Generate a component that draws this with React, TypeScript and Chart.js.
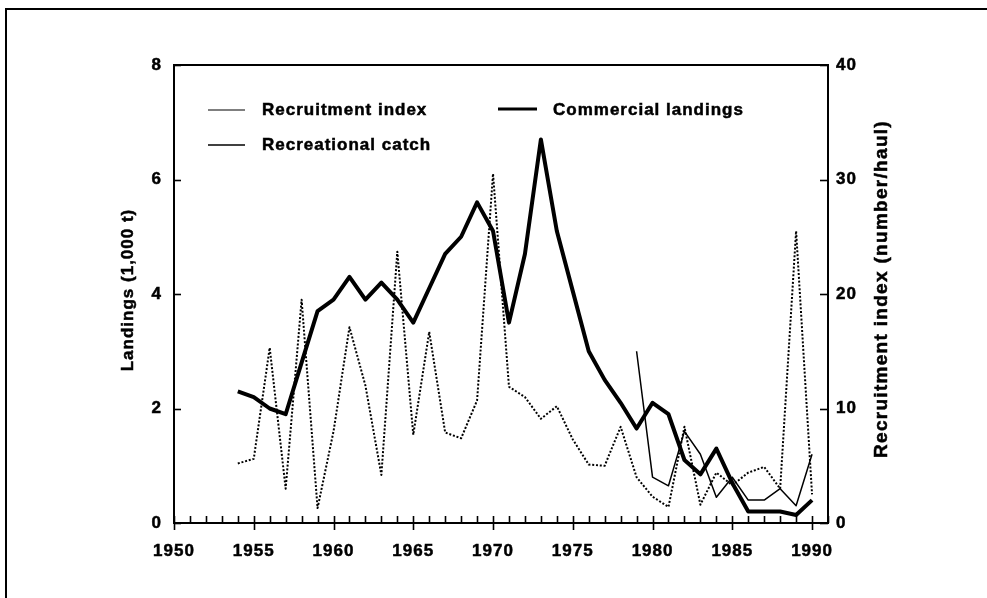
import React, { useEffect, useRef } from "react";
import { Chart, registerables } from "chart.js";

Chart.register(...registerables);

const years = [
  1954, 1955, 1956, 1957, 1958, 1959, 1960, 1961, 1962, 1963, 1964, 1965, 1966,
  1967, 1968, 1969, 1970, 1971, 1972, 1973, 1974, 1975, 1976, 1977, 1978, 1979,
  1980, 1981, 1982, 1983, 1984, 1985, 1986, 1987, 1988, 1989, 1990,
];
const commercialLandings = [
  2.3, 2.2, 2.0, 1.9, 2.8, 3.7, 3.9, 4.3, 3.9, 4.2, 3.9, 3.5, 4.1, 4.7, 5.0, 5.6,
  5.1, 3.5, 4.7, 6.7, 5.1, 4.05, 3.0, 2.5, 2.1, 1.65, 2.1, 1.9, 1.1, 0.85, 1.3,
  0.7, 0.2, 0.2, 0.2, 0.14, 0.4,
];
const recruitmentIndex = [
  5.2, 5.6, 15.3, 3.0, 19.5, 1.3, 8.0, 17.1, 12.0, 4.2, 23.7, 7.7, 16.7, 7.9, 7.4,
  10.7, 30.5, 11.9, 11.0, 9.1, 10.2, 7.3, 5.1, 5.0, 8.4, 4.0, 2.3, 1.4, 8.4, 1.6,
  4.4, 3.3, 4.4, 4.9, 3.0, 25.5, 2.5,
];
const recreationalYears = [
  1979, 1980, 1981, 1982, 1983, 1984, 1985, 1986, 1987, 1988, 1989, 1990,
];
const recreationalCatch = [3.0, 0.8, 0.65, 1.6, 1.2, 0.45, 0.8, 0.4, 0.4, 0.6, 0.3, 1.2];

const xTickLabels = [1950, 1955, 1960, 1965, 1970, 1975, 1980, 1985, 1990];
const leftTickValues = [0, 2, 4, 6, 8];
const rightTickValues = [0, 10, 20, 30, 40];

const leftTitle = "Landings (1,000 t)";
const rightTitle = "Recruitment index (number/haul)";
const legendRecruitment = "Recruitment index";
const legendRecreational = "Recreational catch";
const legendCommercial = "Commercial landings";

const FONT_FAMILY = "'Liberation Sans', Arial, Helvetica, sans-serif";
const INK = "#000";

function boldText(ctx: any, text: string, x: number, y: number) {
  ctx.fillText(text, x, y);
  ctx.lineWidth = 0.5;
  ctx.strokeText(text, x, y);
}

const decorPlugin = {
  id: "decor",
  beforeDraw(chart: any) {
    chart.ctx.letterSpacing = "1px";
  },
  afterDraw(chart: any) {
    const ctx = chart.ctx;
    const { left, right, top, bottom } = chart.chartArea;
    const xs = chart.scales.x;
    const yl = chart.scales.yL;
    const yr = chart.scales.yR;
    ctx.save();
    ctx.strokeStyle = INK;
    ctx.fillStyle = INK;

    // plot box
    ctx.lineWidth = 2;
    ctx.strokeRect(left, top, right - left, bottom - top);

    // x ticks: minor each year (inside), major every 5 yrs (crossing)
    ctx.lineWidth = 1.6;
    for (let v = Math.ceil(xs.min); v <= xs.max; v++) {
      const px = Math.round(xs.getPixelForValue(v)) + 0.5;
      const major = xTickLabels.includes(v);
      ctx.beginPath();
      ctx.moveTo(px, bottom - 7);
      ctx.lineTo(px, major ? bottom + 7 : bottom);
      ctx.stroke();
    }
    // left y ticks
    for (const v of leftTickValues) {
      const py = Math.round(yl.getPixelForValue(v)) + 0.5;
      ctx.beginPath();
      ctx.moveTo(left, py);
      ctx.lineTo(left + 7, py);
      ctx.stroke();
    }
    // right y ticks
    for (const v of rightTickValues) {
      const py = Math.round(yr.getPixelForValue(v)) + 0.5;
      ctx.beginPath();
      ctx.moveTo(right, py);
      ctx.lineTo(right - 8, py);
      ctx.stroke();
    }

    // axis titles
    ctx.textAlign = "center";
    ctx.textBaseline = "middle";
    const midY = (top + bottom) / 2;
    ctx.save();
    ctx.letterSpacing = "1px";
    ctx.font = `bold 17px ${FONT_FAMILY}`;
    ctx.translate(left - 46, midY - 4);
    ctx.rotate(-Math.PI / 2);
    boldText(ctx, leftTitle, 0, 0);
    ctx.restore();
    ctx.save();
    ctx.letterSpacing = "1.3px";
    ctx.font = `bold 19px ${FONT_FAMILY}`;
    ctx.translate(right + 54, midY - 5);
    ctx.rotate(-Math.PI / 2);
    boldText(ctx, rightTitle, 0, 0);
    ctx.restore();

    // legend
    ctx.letterSpacing = "1px";
    ctx.textAlign = "left";
    ctx.font = `bold 17px ${FONT_FAMILY}`;
    const row1 = top + 45;
    const row2 = top + 80;
    // recruitment sample
    ctx.lineWidth = 1.2;
    ctx.beginPath();
    ctx.moveTo(left + 34, row1);
    ctx.lineTo(left + 71, row1);
    ctx.stroke();
    boldText(ctx, legendRecruitment, left + 88, row1);
    // recreational sample
    ctx.lineWidth = 1.4;
    ctx.beginPath();
    ctx.moveTo(left + 34, row2);
    ctx.lineTo(left + 71, row2);
    ctx.stroke();
    boldText(ctx, legendRecreational, left + 88, row2);
    // commercial sample
    ctx.lineWidth = 3;
    ctx.beginPath();
    ctx.moveTo(left + 324, row1 - 1);
    ctx.lineTo(left + 363, row1 - 1);
    ctx.stroke();
    boldText(ctx, legendCommercial, left + 379, row1);

    ctx.restore();
  },
};

export default function App() {
  const canvasRef = useRef<HTMLCanvasElement | null>(null);

  useEffect(() => {
    const canvas = canvasRef.current;
    if (!canvas) return;
    const tickFont = { family: FONT_FAMILY, size: 17, weight: "bold" as const };
    const tickBase = {
      font: tickFont,
      color: INK,
      textStrokeColor: INK,
      textStrokeWidth: 0.5,
    };

    const chart = new Chart(canvas, {
      type: "line",
      data: {
        datasets: [
          {
            label: legendRecruitment,
            data: years.map((y, i) => ({ x: y, y: recruitmentIndex[i] })),
            yAxisID: "yR",
            borderColor: INK,
            borderWidth: 2,
            borderDash: [2, 1.8],
            borderJoinStyle: "round",
            pointRadius: 0,
            tension: 0,
            fill: false,
          },
          {
            label: legendRecreational,
            data: recreationalYears.map((y, i) => ({ x: y, y: recreationalCatch[i] })),
            yAxisID: "yL",
            borderColor: INK,
            borderWidth: 1.5,
            borderJoinStyle: "round",
            pointRadius: 0,
            tension: 0,
            fill: false,
          },
          {
            label: legendCommercial,
            data: years.map((y, i) => ({ x: y, y: commercialLandings[i] })),
            yAxisID: "yL",
            borderColor: INK,
            borderWidth: 4,
            borderJoinStyle: "round",
            pointRadius: 0,
            tension: 0,
            fill: false,
          },
        ],
      },
      options: {
        animation: false,
        responsive: false,
        devicePixelRatio: 1,
        layout: { padding: { top: 65, left: 0, right: 0, bottom: 0 }, autoPadding: false },
        plugins: { legend: { display: false }, tooltip: { enabled: false } },
        scales: {
          x: {
            type: "linear",
            position: "bottom",
            min: 1950,
            max: 1991,
            grid: { display: false, drawTicks: false },
            border: { display: false },
            ticks: {
              ...tickBase,
              padding: 18,
              maxRotation: 0,
              autoSkip: false,
              callback: (v: any) => String(v),
            },
            afterBuildTicks: (s: any) => {
              s.ticks = xTickLabels.map((v) => ({ value: v }));
            },
            afterFit: (s: any) => {
              s.height = 75;
            },
          },
          yL: {
            type: "linear",
            position: "left",
            min: 0,
            max: 8,
            grid: { display: false, drawTicks: false },
            border: { display: false },
            ticks: { ...tickBase, padding: 12, stepSize: 2 },
            afterBuildTicks: (s: any) => {
              s.ticks = leftTickValues.map((v) => ({ value: v }));
            },
            afterFit: (s: any) => {
              s.width = 174;
            },
          },
          yR: {
            type: "linear",
            position: "right",
            min: 0,
            max: 40,
            grid: { display: false, drawTicks: false },
            border: { display: false },
            ticks: { ...tickBase, padding: 8, stepSize: 10 },
            afterBuildTicks: (s: any) => {
              s.ticks = rightTickValues.map((v) => ({ value: v }));
            },
            afterFit: (s: any) => {
              s.width = 159;
            },
          },
        },
      },
      plugins: [decorPlugin],
    });
    return () => chart.destroy();
  }, []);

  return (
    <div
      style={{
        position: "fixed",
        left: 0,
        top: 0,
        width: 987,
        height: 598,
        background: "#fff",
        overflow: "hidden",
      }}
    >
      <div
        style={{
          position: "absolute",
          left: 5,
          top: 8,
          width: 1100,
          height: 700,
          borderLeft: "2px solid #000",
          borderTop: "2px solid #000",
        }}
      />
      <canvas
        ref={canvasRef}
        width={987}
        height={598}
        style={{ position: "absolute", left: 0, top: 0, display: "block" }}
      />
    </div>
  );
}
